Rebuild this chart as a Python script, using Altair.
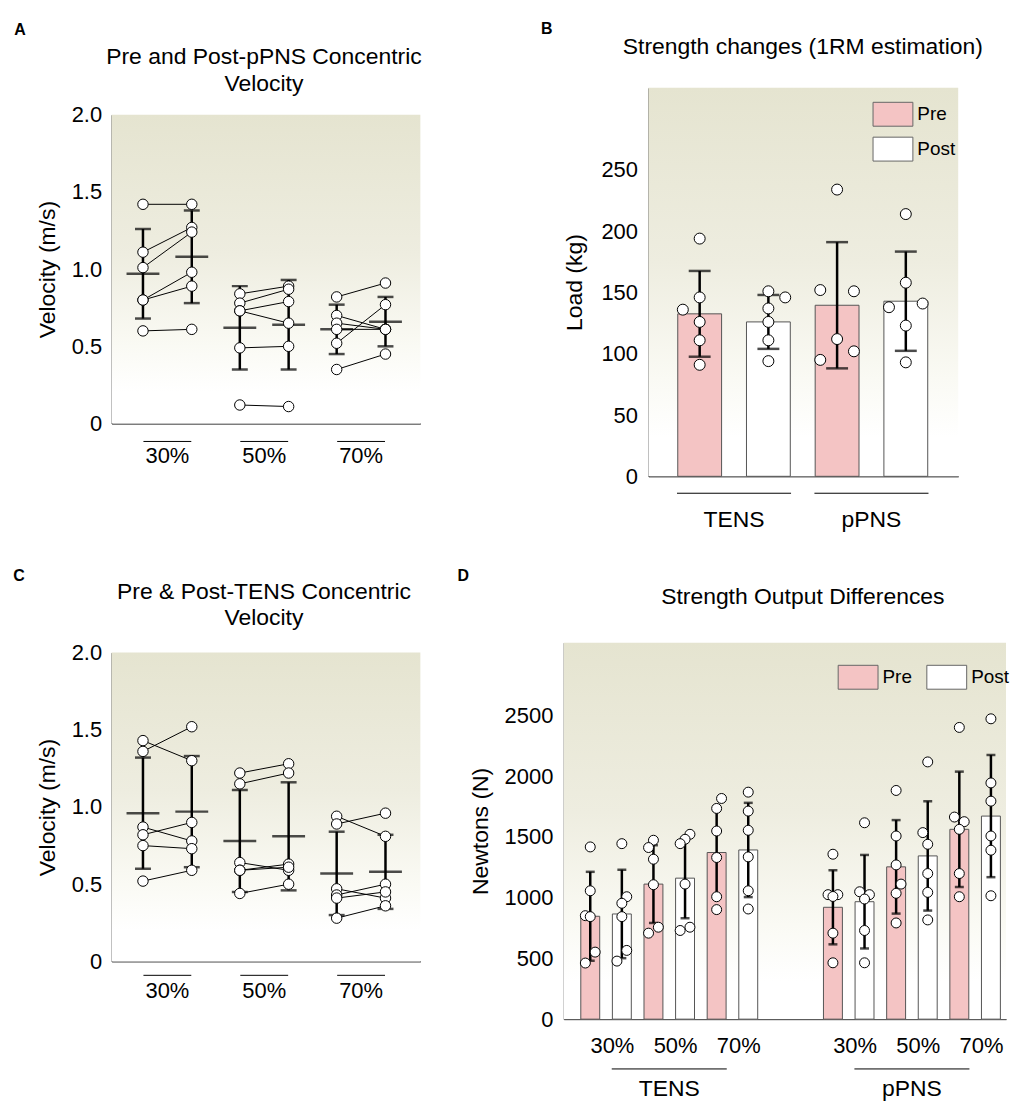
import altair as alt
import pandas as pd

FONT = "Liberation Sans"
PINK = "#f4c4c4"
EDGE = "#555555"
GRAD = {"gradient": "linear", "x1": 0, "y1": 0, "x2": 0, "y2": 1,
        "stops": [{"offset": 0.0, "color": "#e5e4d0"},
                  {"offset": 0.45, "color": "#eeede0"},
                  {"offset": 0.75, "color": "#fafaf4"},
                  {"offset": 0.9, "color": "#ffffff"},
                  {"offset": 1.0, "color": "#ffffff"}]}

pct = ["30%", "50%", "70%"]
groups = ["TENS", "pPNS"]

# ---------- A: pPNS concentric velocity (m/s) ----------
pPNS_pre_30 = [1.42, 1.11, 1.01, 0.80, 0.80, 0.60]
pPNS_post_30 = [1.42, 1.27, 1.24, 0.98, 0.89, 0.61]
pPNS_pre_50 = [0.84, 0.78, 0.73, 0.73, 0.49, 0.12]
pPNS_post_50 = [0.89, 0.87, 0.79, 0.65, 0.50, 0.11]
pPNS_pre_70 = [0.82, 0.70, 0.65, 0.61, 0.52, 0.35]
pPNS_post_70 = [0.91, 0.61, 0.61, 0.61, 0.77, 0.45]
pPNS_mean_pre = [0.97, 0.62, 0.61]
pPNS_sd_pre = [0.29, 0.27, 0.16]
pPNS_mean_post = [1.08, 0.64, 0.66]
pPNS_sd_post = [0.30, 0.29, 0.16]

# ---------- C: TENS concentric velocity (m/s) ----------
TENS_pre_30 = [1.43, 1.36, 0.87, 0.82, 0.75, 0.52]
TENS_post_30 = [1.30, 1.52, 0.78, 0.90, 0.73, 0.59]
TENS_pre_50 = [1.22, 1.15, 0.64, 0.59, 0.59, 0.44]
TENS_post_50 = [1.28, 1.22, 0.59, 0.63, 0.61, 0.50]
TENS_pre_70 = [0.94, 0.89, 0.47, 0.43, 0.41, 0.28]
TENS_post_70 = [0.81, 0.96, 0.41, 0.50, 0.45, 0.36]
TENS_mean_pre = [0.96, 0.78, 0.57]
TENS_sd_pre = [0.36, 0.33, 0.27]
TENS_mean_post = [0.97, 0.81, 0.58]
TENS_sd_post = [0.36, 0.35, 0.24]

# ---------- B: 1RM estimation (kg) ----------
rm_group = ["TENS", "TENS", "pPNS", "pPNS"]
rm_phase = ["Pre", "Post", "Pre", "Post"]
rm_mean = [132.6, 126.0, 139.6, 142.9]
rm_sd = [35.0, 22.0, 51.5, 40.5]
rm_TENS_pre = [194, 146, 136, 126, 111, 91]
rm_TENS_post = [151, 146, 137, 126, 111, 94]
rm_pPNS_pre = [234, 152, 151, 112, 95, 102]
rm_pPNS_post = [214, 158, 138, 141, 123, 93]
rm_jit_TENS_pre = [0, 0, -1, 0, 0, 0]
rm_jit_TENS_post = [0, 1, 0, 0, 0, 0]
rm_jit_pPNS_pre = [0, -1, 1, 0, -1, 1]
rm_jit_pPNS_post = [0, 0, -1, 1, 0, 0]

# ---------- D: strength output (N) ----------
N_TENS_pre_30 = [1418, 1057, 852, 844, 552, 462]
N_TENS_post_30 = [1445, 1008, 954, 844, 566, 478]
N_TENS_pre_50 = [1473, 1413, 1317, 1107, 757, 708]
N_TENS_post_50 = [1522, 1481, 1445, 1112, 757, 730]
N_TENS_pre_70 = [1817, 1735, 1549, 1331, 1008, 902]
N_TENS_post_70 = [1869, 1713, 1555, 1336, 1057, 907]
N_pPNS_pre_30 = [1358, 1025, 1025, 1010, 708, 464]
N_pPNS_post_30 = [1617, 1049, 1025, 989, 730, 464]
N_pPNS_pre_50 = [1883, 1508, 1270, 1112, 1036, 792]
N_pPNS_post_50 = [2118, 1536, 1440, 1199, 1044, 817]
N_pPNS_pre_70 = [2402, 1664, 1626, 1563, 1199, 1008]
N_pPNS_post_70 = [2473, 1945, 1795, 1508, 1391, 1016]
N_jit_TENS = [[0, 0, -1, 0, 1, -1], [0, 1, 0, 0, 1, -1], [0, -1, 0, 0, 1, -1],
              [1, 0, -1, 0, 1, -1], [1, 0, 0, 0, 0, 0], [0, 0, 0, 0, 0, 0]]
N_jit_pPNS = [[0, -1, 1, 0, 0, 0], [0, -1, 1, 0, 0, 0], [0, 0, 0, 1, 0, 0],
              [0, -1, 0, 0, 0, 0], [0, -1, 1, 0, 0, 0], [0, 0, 0, 0, 0, 0]]
N_mean_TENS = [847, 866, 1112, 1161, 1372, 1393]
N_sd_TENS = [366, 364, 320, 330, 350, 388]
N_mean_pPNS = [921, 967, 1254, 1344, 1563, 1672]
N_sd_pPNS = [305, 385, 385, 450, 475, 503]

ONE = alt.Data(values=[{"k": 1}])
XAXIS = alt.Axis(labels=False, ticks=False, grid=False, title=None, domainColor="black")


def box(l, r, t, b):
    return alt.Chart(ONE).mark_rect(opacity=0).encode(
        x=alt.value(l), x2=alt.value(r), y=alt.value(t), y2=alt.value(b))


def background(W, top, bottom):
    return alt.Chart(ONE).mark_rect(color=GRAD).encode(
        x=alt.value(0), x2=alt.value(W), y=alt.value(top), y2=alt.value(bottom))


def label(text, x, y, size=23, weight="normal"):
    return alt.Chart(ONE).mark_text(text=text, font=FONT, fontSize=size, fontWeight=weight,
                                    align="center", baseline="middle", color="black").encode(
        x=alt.value(x), y=alt.value(y))


def yaxis(values, expr, title, tx, ty, pad):
    return alt.Axis(values=values, labelExpr=expr, title=title, titleX=tx, titleY=ty,
                    titleAngle=270, titleAlign="center", titleBaseline="middle",
                    ticks=False, grid=False, labelPadding=pad, domainColor="black")


# ---------------- velocity panels (A, C) ----------------
VW, VH = 310, 310
OFF = 0.252


def velocity_panel(pre, post, m_pre, s_pre, m_post, s_post, letter, lxy, titles, tys,
                   under_y, lab_y, rect):
    rows = []
    for g in range(3):
        for i, (a, b) in enumerate(zip(pre[g], post[g])):
            rows.append({"sid": f"{g}-{i}", "pos": g - OFF, "v": a})
            rows.append({"sid": f"{g}-{i}", "pos": g + OFF, "v": b})
    pts = pd.DataFrame(rows)
    err = pd.DataFrame({
        "pos": [g + s * OFF for g in range(3) for s in (-1, 1)],
        "mean": [m for g in range(3) for m in (m_pre[g], m_post[g])],
        "sd": [s for g in range(3) for s in (s_pre[g], s_post[g])],
    })
    err["lo"] = err["mean"] - err["sd"]
    err["hi"] = err["mean"] + err["sd"]
    caps = pd.concat([pd.DataFrame({"pos": err["pos"], "v": err["lo"]}),
                      pd.DataFrame({"pos": err["pos"], "v": err["hi"]})])
    cats = pd.DataFrame({"pos": [0, 1, 2], "lab": pct,
                         "a": [g - 0.247 for g in range(3)], "b": [g + 0.247 for g in range(3)]})
    xs = alt.Scale(domain=[-0.576, 2.612], nice=False, zero=False)
    ys = alt.Scale(domain=[0, 2], nice=False)
    ya = yaxis([0, 0.5, 1, 1.5, 2], "datum.value == 0 ? '0' : format(datum.value, '.1f')",
               "Velocity (m/s)", -64, VH / 2, 10)

    def X(f):
        return alt.X(f, type="quantitative", scale=xs, axis=XAXIS)

    def Y(f):
        return alt.Y(f, type="quantitative", scale=ys, axis=ya)

    layers = [
        box(*rect),
        background(VW, 0, VH),
        alt.Chart(pts).mark_line(color="black", strokeWidth=1).encode(x=X("pos"), y=Y("v"), detail="sid:N"),
        alt.Chart(err).mark_rule(color="black", strokeWidth=2.5).encode(x=X("pos"), y=Y("lo"), y2="hi"),
        alt.Chart(caps).mark_tick(orient="horizontal", size=16, thickness=2.5, color="black").encode(x=X("pos"), y=Y("v")),
        alt.Chart(err).mark_tick(orient="horizontal", size=33, thickness=2.5, color="black").encode(x=X("pos"), y=Y("mean")),
        alt.Chart(pts).mark_point(shape="circle", filled=True, fill="white", stroke="black",
                                  strokeWidth=1, size=110, opacity=1).encode(x=X("pos"), y=Y("v")),
        alt.Chart(cats).mark_rule(color="black", strokeWidth=1).encode(x=X("a"), x2="b", y=alt.value(VH + under_y)),
        alt.Chart(cats).mark_text(font=FONT, fontSize=22, baseline="middle", color="black").encode(
            x=X("pos"), y=alt.value(VH + lab_y), text="lab:N"),
        label(letter, lxy[0], lxy[1], size=16, weight="bold"),
    ]
    for t, ty in zip(titles, tys):
        layers.append(label(t, 153, ty))
    return alt.layer(*layers).properties(width=VW, height=VH)


A = velocity_panel([pPNS_pre_30, pPNS_pre_50, pPNS_pre_70], [pPNS_post_30, pPNS_post_50, pPNS_post_70],
                   pPNS_mean_pre, pPNS_sd_pre, pPNS_mean_post, pPNS_sd_post,
                   "A", (-92, -85), ["Pre and Post-pPNS Concentric", "Velocity"], [-58, -31],
                   18, 33, (-104, 416, -105, 435))
C = velocity_panel([TENS_pre_30, TENS_pre_50, TENS_pre_70], [TENS_post_30, TENS_post_50, TENS_post_70],
                   TENS_mean_pre, TENS_sd_pre, TENS_mean_post, TENS_sd_post,
                   "C", (-93, -77), ["Pre & Post-TENS Concentric", "Velocity"], [-61, -35],
                   14, 30, (-104, 338, -105, 441))

# ---------------- B ----------------
# plot area spans from 27 px above the row origin down to BH
BW, BH, BTOP = 311, 363, -27
BJ = 0.245
bars_b = pd.DataFrame({"pos": [0, 1, 2, 3], "group": rm_group, "phase": rm_phase,
                       "mean": rm_mean, "sd": rm_sd})
bars_b["lo"] = bars_b["mean"] - bars_b["sd"]
bars_b["hi"] = bars_b["mean"] + bars_b["sd"]
rows = []
for k, (vals, jit) in enumerate([(rm_TENS_pre, rm_jit_TENS_pre), (rm_TENS_post, rm_jit_TENS_post),
                                 (rm_pPNS_pre, rm_jit_pPNS_pre), (rm_pPNS_post, rm_jit_pPNS_post)]):
    for v, j in zip(vals, jit):
        rows.append({"pos": k + j * BJ, "v": v})
pts_b = pd.DataFrame(rows)
caps_b = pd.concat([pd.DataFrame({"pos": bars_b["pos"], "v": bars_b["lo"]}),
                    pd.DataFrame({"pos": bars_b["pos"], "v": bars_b["hi"]})])
grp_b = pd.DataFrame({"pos": [0.5, 2.5], "lab": groups, "a": [0.5 - 0.83, 2.5 - 0.83], "b": [0.5 + 0.83, 2.5 + 0.83]})
xs_b = alt.Scale(domain=[-0.673, 3.69], nice=False, zero=False)
ys_b = alt.Scale(domain=[0, 317], range=[BH, BTOP], nice=False)
ya_b = yaxis([0, 50, 100, 150, 200, 250], "datum.label", "Load (kg)", -74, (BH + BTOP) / 2, 11)
fill_scale = alt.Scale(domain=["Pre", "Post"], range=[PINK, "white"])


def XB(f):
    return alt.X(f, type="quantitative", scale=xs_b, axis=XAXIS)


def YB(f):
    return alt.Y(f, type="quantitative", scale=ys_b, axis=ya_b)


legend_b = alt.Legend(title=None, orient="none", legendX=225, legendY=-21, direction="vertical",
                      symbolType="M-1,-0.6L1,-0.6L1,0.6L-1,0.6Z", symbolSize=1600,
                      symbolStrokeColor="#666666", symbolStrokeWidth=1, symbolOpacity=1,
                      labelFont=FONT, labelFontSize=19, labelColor="black", labelOffset=4,
                      rowPadding=-4, padding=0)

B = alt.layer(
    box(-123, 359, -105, 435),
    background(BW, BTOP, BH),
    alt.Chart(bars_b).mark_bar(orient="vertical", size=44, stroke=EDGE, strokeWidth=1).encode(
        x=XB("pos"), y=alt.Y("mean:Q", scale=ys_b, axis=ya_b, stack=None),
        fill=alt.Fill("phase:N", scale=fill_scale, legend=legend_b)),
    alt.Chart(bars_b).mark_rule(color="black", strokeWidth=2.5).encode(x=XB("pos"), y=YB("lo"), y2="hi"),
    alt.Chart(caps_b).mark_tick(orient="horizontal", size=22, thickness=2.5, color="black").encode(x=XB("pos"), y=YB("v")),
    alt.Chart(pts_b).mark_point(shape="circle", filled=True, fill="white", stroke="black",
                                strokeWidth=1, size=121, opacity=1).encode(x=XB("pos"), y=YB("v")),
    alt.Chart(grp_b).mark_rule(color="black", strokeWidth=1).encode(x=XB("a"), x2="b", y=alt.value(BH + 17)),
    alt.Chart(grp_b).mark_text(font=FONT, fontSize=23, baseline="middle", color="black").encode(
        x=XB("pos"), y=alt.value(BH + 44), text="lab:N"),
    label("B", -102, BTOP - 59, size=16, weight="bold"),
    label("Strength changes (1RM estimation)", 155, BTOP - 41),
).properties(width=BW, height=BH)

# ---------------- D ----------------
DW, DH, DTOP = 444, 368, -10
DJ = 0.155
GAP = 7.68
phase6 = ["Pre", "Post"] * 3
bars_d = pd.DataFrame({
    "pos": [k for k in range(6)] + [GAP + k for k in range(6)],
    "group": ["TENS"] * 6 + ["pPNS"] * 6,
    "phase": phase6 * 2,
    "mean": N_mean_TENS + N_mean_pPNS,
    "sd": N_sd_TENS + N_sd_pPNS,
})
bars_d["lo"] = bars_d["mean"] - bars_d["sd"]
bars_d["hi"] = bars_d["mean"] + bars_d["sd"]
vals_TENS = [N_TENS_pre_30, N_TENS_post_30, N_TENS_pre_50, N_TENS_post_50, N_TENS_pre_70, N_TENS_post_70]
vals_pPNS = [N_pPNS_pre_30, N_pPNS_post_30, N_pPNS_pre_50, N_pPNS_post_50, N_pPNS_pre_70, N_pPNS_post_70]
rows = []
for base, vals_all, jit_all in [(0, vals_TENS, N_jit_TENS), (GAP, vals_pPNS, N_jit_pPNS)]:
    for k in range(6):
        for v, j in zip(vals_all[k], jit_all[k]):
            rows.append({"pos": base + k + j * DJ, "v": v})
pts_d = pd.DataFrame(rows)
caps_d = pd.concat([pd.DataFrame({"pos": bars_d["pos"], "v": bars_d["lo"]}),
                    pd.DataFrame({"pos": bars_d["pos"], "v": bars_d["hi"]})])
pct_d = pd.DataFrame({"pos": [0.7, 2.7, 4.7, GAP + 0.7, GAP + 2.7, GAP + 4.7], "lab": pct * 2})
grp_d = pd.DataFrame({"pos": [2.5, GAP + 2.5], "lab": groups,
                      "a": [2.5 - 1.82, GAP + 2.5 - 1.82], "b": [2.5 + 1.82, GAP + 2.5 + 1.82]})
xs_d = alt.Scale(domain=[-0.68, 13.0], nice=False, zero=False)
ys_d = alt.Scale(domain=[0, 3100], range=[DH, DTOP], nice=False)
ya_d = yaxis([0, 500, 1000, 1500, 2000, 2500], "datum.value", "Newtons (N)", -84, (DH + DTOP) / 2, 11)


def XD(f):
    return alt.X(f, type="quantitative", scale=xs_d, axis=XAXIS)


def YD(f):
    return alt.Y(f, type="quantitative", scale=ys_d, axis=ya_d)


legend_d = alt.Legend(title=None, orient="none", legendX=275, legendY=4, direction="horizontal",
                      columns=2, columnPadding=12,
                      symbolType="M-1,-0.6L1,-0.6L1,0.6L-1,0.6Z", symbolSize=1600,
                      symbolStrokeColor="#666666", symbolStrokeWidth=1, symbolOpacity=1,
                      labelFont=FONT, labelFontSize=19, labelColor="black", labelOffset=4, padding=0)

D = alt.layer(
    box(-116, 444, -105, 441),
    background(DW, DTOP, DH),
    alt.Chart(bars_d).mark_bar(orient="vertical", size=19, stroke=EDGE, strokeWidth=1).encode(
        x=XD("pos"), y=alt.Y("mean:Q", scale=ys_d, axis=ya_d, stack=None),
        fill=alt.Fill("phase:N", scale=fill_scale, legend=legend_d)),
    alt.Chart(bars_d).mark_rule(color="black", strokeWidth=2.5).encode(x=XD("pos"), y=YD("lo"), y2="hi"),
    alt.Chart(caps_d).mark_tick(orient="horizontal", size=9, thickness=2.5, color="black").encode(x=XD("pos"), y=YD("v")),
    alt.Chart(pts_d).mark_point(shape="circle", filled=True, fill="white", stroke="black",
                                strokeWidth=1, size=100, opacity=1).encode(x=XD("pos"), y=YD("v")),
    alt.Chart(pct_d).mark_text(font=FONT, fontSize=22, baseline="middle", color="black").encode(
        x=XD("pos"), y=alt.value(DH + 27), text="lab:N"),
    alt.Chart(grp_d).mark_rule(color="black", strokeWidth=1).encode(x=XD("a"), x2="b", y=alt.value(DH + 50)),
    alt.Chart(grp_d).mark_text(font=FONT, fontSize=23, baseline="middle", color="black").encode(
        x=XD("pos"), y=alt.value(DH + 70), text="lab:N"),
    label("D", -101, DTOP - 67, size=16, weight="bold"),
    label("Strength Output Differences", 240, DTOP - 46),
).properties(width=DW, height=DH)

top = alt.hconcat(A, B, spacing=0).resolve_scale(fill="independent").resolve_legend(fill="independent")
bottom = alt.hconcat(C, D, spacing=0).resolve_scale(fill="independent").resolve_legend(fill="independent")
chart = alt.vconcat(top, bottom, spacing=0).resolve_scale(fill="independent").resolve_legend(
    fill="independent"
).properties(padding=0).configure_view(
    stroke=None
).configure_axis(
    labelFont=FONT, labelFontSize=22, labelColor="black", titleFont=FONT, titleFontSize=23,
    titleFontWeight="normal", titleColor="black", domainColor="black", domainWidth=1
)

chart.save("out.html", embed_options={"renderer": "svg", "actions": False})
